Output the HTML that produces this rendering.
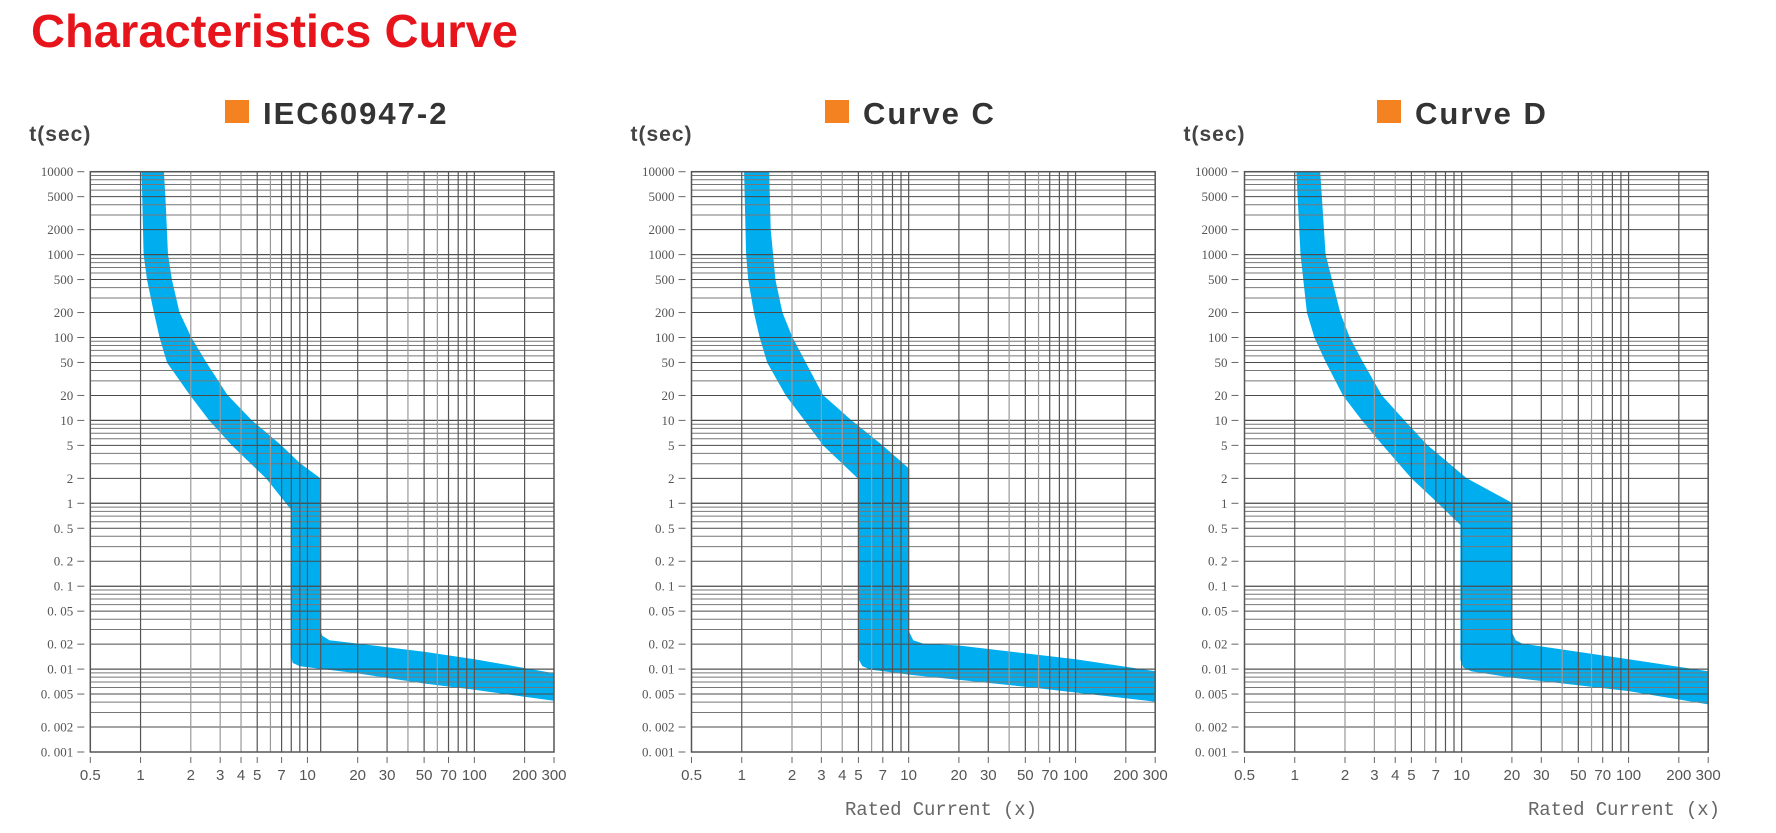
<!DOCTYPE html>
<html><head><meta charset="utf-8"><style>
html,body{margin:0;padding:0;background:#fff;}
svg{display:block;}
</style></head><body>
<svg id="root" width="1776" height="833" viewBox="0 0 1776 833" xmlns="http://www.w3.org/2000/svg">
<text x="31" y="47" font-family="Liberation Sans, sans-serif" font-weight="bold" font-size="46" fill="#e8141c" textLength="487" lengthAdjust="spacingAndGlyphs">Characteristics Curve</text>
</svg>
<script>
const xTicks=[0.5,1,2,3,4,5,7,10,20,30,50,70,100,200,300];
const xTickLabels=["0.5","1","2","3","4","5","7","10","20","30","50","70","100","200","300"];
const yTicks=[10000,5000,2000,1000,500,200,100,50,20,10,5,2,1,0.5,0.2,0.1,0.05,0.02,0.01,0.005,0.002,0.001];
const yTickLabels=["10000","5000","2000","1000","500","200","100","50","20","10","5","2","1","0. 5","0. 2","0. 1","0. 05","0. 02","0. 01","0. 005","0. 002","0. 001"];
const gridX=[1,2,3,4,5,6,7,8,9,10,20,30,40,50,60,70,80,90,100,200];
const chartTitles=["IEC60947-2","Curve C","Curve D"];
const extraGridX=[[12],[],[]];
// band boundaries: [current multiple, seconds]
const iecUpper=[[1.37,10000],[1.4,5000],[1.45,1000],[1.53,500],[1.7,200],[2.0,100],[2.46,50],[3.3,20],[4.6,10],[6.9,5],[9,3],[11.8,2],[11.8,0.03],[12.2,0.025],[13.5,0.022],[20,0.02],[50,0.016],[100,0.013],[300,0.0088]];
const iecLower=[[1.02,10000],[1.03,5000],[1.05,1000],[1.1,500],[1.21,200],[1.31,100],[1.45,50],[2.0,20],[2.6,10],[3.56,5],[5.7,2],[8.0,0.85],[8.0,0.015],[8.2,0.012],[9,0.011],[20,0.009],[50,0.0068],[100,0.0057],[300,0.0042]];
const cUpper=[[1.45,10000],[1.48,2000],[1.53,1000],[1.58,500],[1.74,200],[2.0,100],[3.05,20],[4.5,10],[6.9,5],[10,2.6],[10,0.028],[10.6,0.022],[12.2,0.02],[20,0.019],[100,0.013],[300,0.0093]];
const cLower=[[1.04,10000],[1.07,1000],[1.1,500],[1.19,200],[1.29,100],[1.43,50],[1.85,20],[2.4,10],[3.1,5],[5,2],[5,0.0137],[5.3,0.011],[5.9,0.01],[10,0.0087],[50,0.0062],[300,0.0041]];
const dUpper=[[1.41,10000],[1.52,1000],[1.66,500],[1.86,200],[2.12,100],[2.55,50],[3.3,20],[4.5,10],[6.2,5],[10.6,2],[20,1],[20,0.027],[21,0.022],[23,0.02],[100,0.013],[300,0.0093]];
const dLower=[[1.03,10000],[1.09,1000],[1.19,200],[1.32,100],[1.55,50],[1.96,20],[2.55,10],[3.4,5],[5.05,2],[7.3,1],[9.9,0.55],[9.9,0.013],[10.3,0.0105],[11.5,0.0095],[20,0.008],[100,0.0055],[300,0.0038]];
const bandsUpper=[iecUpper,cUpper,dUpper];
const bandsLower=[iecLower,cLower,dLower];
const chartLefts=[90.3,691.5,1244.5];
const legendX=[225,825,1377];
const NS="http://www.w3.org/2000/svg";
const root=document.getElementById('root');
const W=463.7, TOP=171.7, BOT=752;
function mk(tag,attrs,parent){const e=document.createElementNS(NS,tag);for(const k in attrs)e.setAttribute(k,attrs[k]);(parent||root).appendChild(e);return e;}
chartTitles.forEach((title,ci)=>{
  const L=chartLefts[ci];
  const xs=v=>L+(Math.log10(v)-Math.log10(0.5))/(Math.log10(300)-Math.log10(0.5))*W;
  const ys=v=>TOP+(4-Math.log10(v))/7*(BOT-TOP);
  const g=mk('g',{});
  
  
  // legend
  const sq=mk('rect',{x:legendX[ci],y:100,width:24,height:23,fill:'#f58220'},g);
  
  
  const lt=mk('text',{x:legendX[ci]+38,y:124,'font-family':'Liberation Sans, sans-serif','font-weight':'bold','font-size':31,fill:'#333','letter-spacing':'2'},g);
  lt.textContent=title;
  
  
  const ya=mk('text',{x:L-61,y:141,'font-family':'Liberation Sans, sans-serif','font-weight':'bold','font-size':21,fill:'#444','letter-spacing':'1'},g);
  ya.textContent='t(sec)';
  
  
  // band
  const pts=bandsUpper[ci].map(p=>xs(p[0]).toFixed(1)+','+ys(p[1]).toFixed(1)).concat(bandsLower[ci].slice().reverse().map(p=>xs(p[0]).toFixed(1)+','+ys(p[1]).toFixed(1)));
  const band=mk('polygon',{points:pts.join(' '),fill:'#00aeef','stroke':'#00aeef','stroke-width':1,'stroke-linejoin':'round'},g);
  
  
  // horizontal grid
  for(let d=-3;d<4;d++){for(let m=1;m<=10;m++){const v=m*Math.pow(10,d);const y=ys(v);
    const ln=mk('line',{x1:L,x2:L+W,y1:y,y2:y,stroke:(m===1||m===10||m===2||m===5)?'#4a4a4a':'#777','stroke-width':1},g);
    
    }}
  // vertical grid
  gridX.concat(extraGridX[ci]).forEach(v=>{const x=xs(v);
    const ln=mk('line',{x1:x,x2:x,y1:TOP,y2:BOT,stroke:([2,3,4,6,40,60].includes(v))?'#999':'#555','stroke-width':1.2},g);
    
    });
  const fr=mk('rect',{x:L,y:TOP,width:W,height:BOT-TOP,fill:'none',stroke:'#555','stroke-width':1.5},g);
  
  
  // y ticks
  yTicks.forEach((v,i)=>{const y=ys(v);
    const tk=mk('line',{x1:L-13,x2:L-6,y1:y,y2:y,stroke:'#666','stroke-width':1},g);
    
    
    const t=mk('text',{x:L-17,y:y+4.5,'text-anchor':'end','font-family':'Liberation Serif, serif','font-size':13,fill:'#555'},g);
    t.textContent=yTickLabels[i];
    
    });
  // x ticks
  xTicks.forEach((v,i)=>{const x=xs(v);
    const tk=mk('line',{x1:x,x2:x,y1:BOT+5,y2:BOT+11,stroke:'#666','stroke-width':1},g);
    
    
    const t=mk('text',{x:x,y:780,'text-anchor':'middle','font-family':'Liberation Sans, sans-serif','font-size':15,fill:'#555'},g);
    t.textContent=xTickLabels[i];
    
    });
});
[[845,1037],[1528,1720]].forEach(p=>{
  const t=mk('text',{x:p[0],y:815,'font-family':'Liberation Mono, monospace','font-size':19,fill:'#666',textLength:p[1]-p[0],lengthAdjust:'spacing'});
  t.textContent='Rated Current (x)';
  
  
});
</script>
</body></html>
